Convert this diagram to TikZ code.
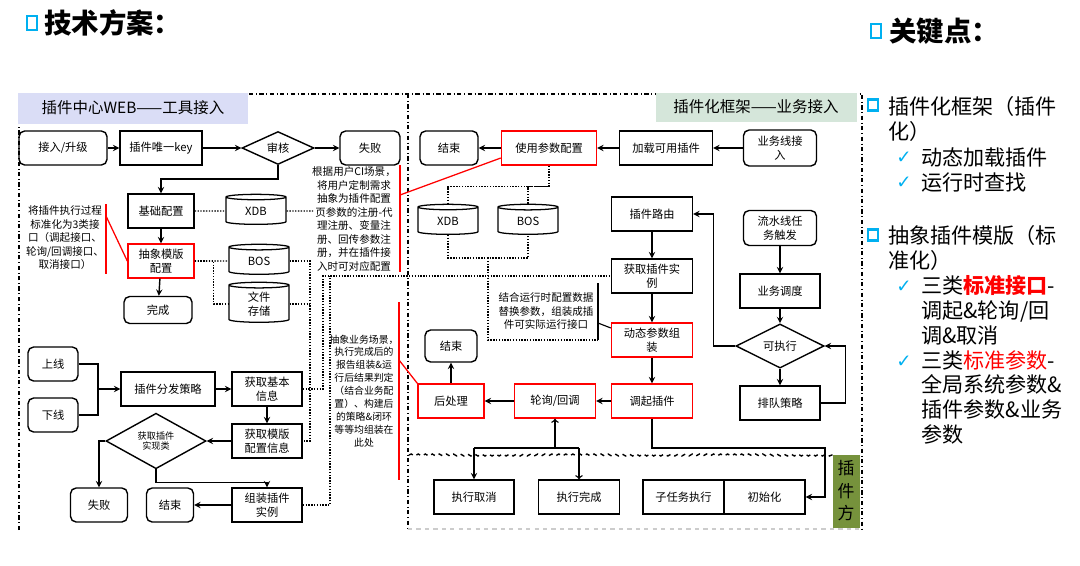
\documentclass[tikz,border=0pt]{standalone}
\usepackage{fontspec}
\setmainfont{Noto Sans CJK SC}
\newfontfamily\symfont{DejaVu Sans}
\usetikzlibrary{shapes.geometric,decorations.pathmorphing}
\newcommand\pxl{0.025cm}
\definecolor{bulletblue}{RGB}{0,176,240}
\definecolor{lavhead}{RGB}{218,221,246}
\definecolor{greenhead}{RGB}{213,230,218}
\definecolor{olivebox}{RGB}{118,146,60}
\begin{document}
\begin{tikzpicture}[x=\pxl, y=-\pxl,
  box/.style={draw, line width=1pt, minimum height=34*\pxl, inner sep=1pt,
    align=center, font=\fontsize{8}{10}\selectfont},
  rbox/.style={box, rounded corners=4pt},
  redbox/.style={box, draw=red},
  decide/.style={draw, diamond, line width=1pt, inner sep=0pt, align=center,
    font=\fontsize{8}{10}\selectfont},
  db/.style={draw, cylinder, shape border rotate=90, aspect=0.25, line width=0.9pt,
    minimum width=60*\pxl, minimum height=30*\pxl, inner sep=0pt, align=center,
    font=\fontsize{8}{9.5}\selectfont},
  note/.style={align=center, inner sep=0pt, font=\fontsize{7.5}{9.6}\selectfont},
  arr/.style={->, >=stealth, line width=1pt},
  oarr/.style={->, >=to, line width=1pt},
  dots/.style={densely dotted, line width=1pt},
  redl/.style={red, line width=0.9pt},
  frame/.style={dash dot, line width=0.9pt},
  wave/.style={dashed, line width=1pt, decorate,
    decoration={snake, amplitude=0.7pt, segment length=5pt}},
  kp/.style={anchor=north west, inner sep=0pt, align=left,
    font=\fontsize{15}{17.7}\selectfont},
  tick/.style={text=bulletblue, inner sep=0pt, font=\symfont\fontsize{13}{14}\selectfont},
  sqb/.style={draw=bulletblue, line width=1.8pt, minimum width=10*\pxl,
    minimum height=11*\pxl, inner sep=0pt}
]
\useasboundingbox (0,0) rectangle (1080,566);

% titles
\node[sqb, minimum height=14*\pxl] (tb1) at (32,23) {};
\node[anchor=west, inner sep=0pt, font=\fontsize{19.5}{22}\bfseries] (title) at (44,23) {技术方案：};
\node[sqb, minimum height=14*\pxl] (tb2) at (876,31) {};
\node[anchor=west, inner sep=0pt, font=\fontsize{19.5}{22}\bfseries] (keyt) at (889,31) {关键点：};

% frames
\draw[frame] (19,530) -- (19,94) -- (862,94) -- (862,530);
\draw[frame] (408,94) -- (408,530);
\draw[dashed, gray!40, line width=0.8pt] (408,529) -- (862,529);
\node[fill=lavhead, minimum width=230*\pxl, minimum height=31*\pxl, inner sep=0pt,
  font=\fontsize{11}{13}\selectfont] (webhead) at (133,108) {插件中心WEB——工具接入};
\node[fill=greenhead, minimum width=201*\pxl, minimum height=29*\pxl, inner sep=0pt,
  font=\fontsize{11}{13}\selectfont] (fwhead) at (756,107) {插件化框架——业务接入};

% left panel, upper part
\node[rbox, minimum width=88*\pxl] (join) at (63,148) {接入/升级};
\node[box, minimum width=82*\pxl] (ukey) at (161,148) {插件唯一key};
\node[decide, minimum width=72*\pxl, minimum height=30*\pxl] (audit) at (278,148) {审核};
\node[rbox, minimum width=60*\pxl] (fail1) at (370,148) {失败};
\node[box, minimum width=66*\pxl] (basecfg) at (161,211) {基础配置};
\node[db] (xdbl) at (256,211) {XDB};
\node[redbox, minimum width=66*\pxl] (tplcfg) at (161,261) {抽象模版\\配置};
\node[db] (bosl) at (259,261) {BOS};
\node[db, minimum height=40*\pxl] (files) at (259,304) {文件\\存储};
\node[rbox, minimum width=68*\pxl, minimum height=27*\pxl] (done) at (158,310) {完成};
\node[note] (noteL) at (65,238) {将插件执行过程\\标准化为3类接\\口（调起接口、\\轮询/回调接口、\\取消接口）};
\node[note] (noteCI) at (354,219) {根据用户CI场景，\\将用户定制需求\\抽象为插件配置\\页参数的注册-代\\理注册、变量注\\册、回传参数注\\册，并在插件接\\入时可对应配置};

\draw[arr] (join) -- (ukey);
\draw[arr] (ukey) -- (audit);
\draw[arr] (audit) -- (fail1);
\draw[arr] (audit.south) -- ++(0,14) -| (basecfg.north);
\draw[arr] (basecfg) -- (tplcfg);
\draw[arr] (tplcfg) -- (done);

% storage links
\coordinate (dotv) at (310,0);
\coordinate (ciend) at (313,211);
\draw[dots] (basecfg) -- (xdbl);
\draw[dots] (xdbl.east) -- (ciend);
\draw[dots] (tplcfg) -- (bosl);
\draw[dots] (tplcfg.east) -- ++(19,0) |- (files.west);
\draw[dots] (files.east) -- (files.east -| dotv);

% left panel, lower part
\node[rbox, minimum width=50*\pxl] (online) at (53,364) {上线};
\node[rbox, minimum width=50*\pxl] (offline) at (53,415) {下线};
\node[box, minimum width=94*\pxl] (dist) at (168,389) {插件分发策略};
\node[box, minimum width=70*\pxl] (getinfo) at (267,389) {获取基本\\信息};
\node[box, minimum width=70*\pxl] (gettpl) at (267,441) {获取模版\\配置信息};
\node[decide, minimum width=100*\pxl, minimum height=44*\pxl,
  font=\fontsize{6.5}{7.5}\selectfont] (getimpl) at (156,441) {获取插件\\实现类};
\node[rbox, minimum width=57*\pxl] (fail2) at (99,505) {失败};
\node[rbox, minimum width=47*\pxl] (end1) at (170,505) {结束};
\node[box, minimum width=70*\pxl] (build) at (267,505) {组装插件\\实例};
\node[note, font=\fontsize{7}{9.2}\selectfont] (noteBiz) at (364,391) {抽象业务场景，\\执行完成后的\\报告组装\&运\\行后结果判定\\（结合业务配\\置）、构建后\\的策略\&闭环\\等等均组装在\\此处};

\coordinate (merge) at (98,389);
\draw[line width=1pt] (online.east) -| (merge);
\draw[line width=1pt] (offline.east) -| (merge);
\draw[arr] (merge) -- (dist);
\draw[arr] (dist) -- (getinfo);
\draw[arr] (getinfo) -- (gettpl);
\draw[arr] (gettpl) -- (getimpl);
\draw[arr] (getimpl.west) -| (fail2.north);
\draw[arr] (getimpl.south) -- ++(0,13) -| (build.north);
\draw[arr] (build) -- (end1);

% right panel
\node[rbox, minimum width=58*\pxl] (end2) at (449,148) {结束};
\node[redbox, minimum width=95*\pxl] (usecfg) at (549,148) {使用参数配置};
\node[box, minimum width=93*\pxl] (load) at (666,148) {加载可用插件};
\node[rbox, minimum width=73*\pxl, minimum height=36*\pxl] (bizin) at (780,148) {业务线接\\入};
\node[db] (xdbr) at (448,221) {XDB};
\node[db] (bosr) at (528,221) {BOS};
\node[box, minimum width=81*\pxl] (route) at (652,214) {插件路由};
\node[box, minimum width=81*\pxl] (getinst) at (652,276) {获取插件实\\例};
\node[redbox, minimum width=81*\pxl] (dyn) at (652,340) {动态参数组\\装};
\node[redbox, minimum width=81*\pxl] (invoke) at (652,401) {调起插件};
\node[redbox, minimum width=81*\pxl] (poll) at (555,401) {轮询/回调};
\node[redbox, minimum width=66*\pxl] (post) at (451,401) {后处理};
\node[rbox, minimum width=52*\pxl, minimum height=32*\pxl] (end3) at (451,346) {结束};
\node[rbox, minimum width=73*\pxl, minimum height=35*\pxl] (pipe) at (780,228) {流水线任\\务触发};
\node[box, minimum width=80*\pxl] (sched) at (780,291) {业务调度};
\node[decide, minimum width=88*\pxl, minimum height=33*\pxl] (runnable) at (780,346) {可执行};
\node[box, minimum width=80*\pxl] (queue) at (780,403) {排队策略};
\node[note] (noteDyn) at (546,311) {结合运行时配置数据\\替换参数，组装成插\\件可实际运行接口};

\draw[arr] (bizin) -- (load);
\draw[arr] (load) -- (usecfg);
\draw[arr] (usecfg) -- (end2);
\draw[arr] (route) -- (getinst);
\draw[arr] (getinst) -- (dyn);
\draw[arr] (dyn) -- (invoke);
\draw[arr] (invoke) -- (poll);
\draw[arr] (poll) -- (post);
\draw[arr] (post) -- (end3);
\draw[arr] (pipe) -- (sched);
\draw[arr] (sched) -- (runnable);
\draw[arr] (runnable) -- (queue);
\draw[arr] (queue.east) -- ++(25,0) |- (runnable.east);
\draw[arr] (runnable.west) -- ++(-22,0) |- (route.east);

% data stores of the framework
\coordinate (dbus) at (488,258);
\coordinate (noteb) at (598,340);
\coordinate (notet) at (598,283);
\coordinate (dotjoin) at (323,276);
\draw[dots] (usecfg.south) -- ++(0,21) coordinate (dsplit) -| (xdbr.north);
\draw[dots] (dsplit) -| (bosr.north);
\draw[dots] (xdbr.south) |- (dbus) -| (bosr.south);
\draw[dots] (dbus) |- (noteb);
\draw[dots] (getinfo.east) -| (dotjoin) -- (getinst.west);
\draw[dots] (build.east) -| (getinst.west -| 330,0);
\draw[dots] (bosl.east) -- (bosl.east -| dotv) |- (gettpl.east);
\draw[line width=0.8pt] (notet) -- (noteb);
\draw[line width=0.8pt] (598,323) -- ([yshift=0.3cm]dyn.west);

% red brackets
\draw[redl] (106,204) -- (106,274);
\draw[redl] (106,216) -- (tplcfg.west);
\draw[redl] (400,165) -- (400,272);
\draw[redl] (400,195) -- ([yshift=-0.25cm]usecfg.west);
\draw[redl] (399,302) -- (399,480);
\draw[redl] (399,360) -- (post.north west);

% plugin side
\draw[wave] (409,455) -- (833,455);
\node[box, minimum width=80*\pxl] (cancel) at (474,497) {执行取消};
\node[box, minimum width=81*\pxl] (finish) at (579,497) {执行完成};
\node[box, minimum width=81*\pxl] (subtask) at (683.5,497) {子任务执行};
\node[box, minimum width=81*\pxl] (init) at (764.5,497) {初始化};
\node[fill=olivebox, minimum width=27*\pxl, minimum height=73*\pxl, inner sep=0pt,
  align=center, font=\fontsize{12}{16}\selectfont] (side) at (846,491) {插\\件\\方};

\coordinate (pj) at (555,448);
\coordinate (ic) at (825,448);
\draw[oarr] (pj) -- (poll.south);
\draw[line width=1pt] (cancel.north |- pj) -- (finish.north |- pj);
\draw[arr] (cancel.north |- pj) -- (cancel.north);
\draw[oarr] (finish.north |- pj) -- (finish.north);
\draw[arr] (invoke.south) |- (ic) |- (init.east);

% key points
\node[sqb] (kb1) at (873,105) {};
\node[kp] (kp1) at (888,96) {插件化框架（插件\\化）};
\node[tick] (ck1) at (904,158) {✓};
\node[kp] (kp1a) at (921,147) {动态加载插件};
\node[tick] (ck2) at (904,183) {✓};
\node[kp] (kp1b) at (921,172) {运行时查找};
\node[sqb] (kb2) at (873,235) {};
\node[kp] (kp2) at (888,225) {抽象插件模版（标\\准化）};
\node[tick] (ck3) at (904,287) {✓};
\node[kp] (kp2a) at (921,275) {三类\textcolor{red}{\bfseries 标准接口}-\\调起\&轮询/回\\调\&取消};
\node[tick] (ck4) at (904,362) {✓};
\node[kp] (kp2b) at (921,350) {三类\textcolor{red}{标准参数}-\\全局系统参数\&\\插件参数\&业务\\参数};
\end{tikzpicture}
\end{document}
